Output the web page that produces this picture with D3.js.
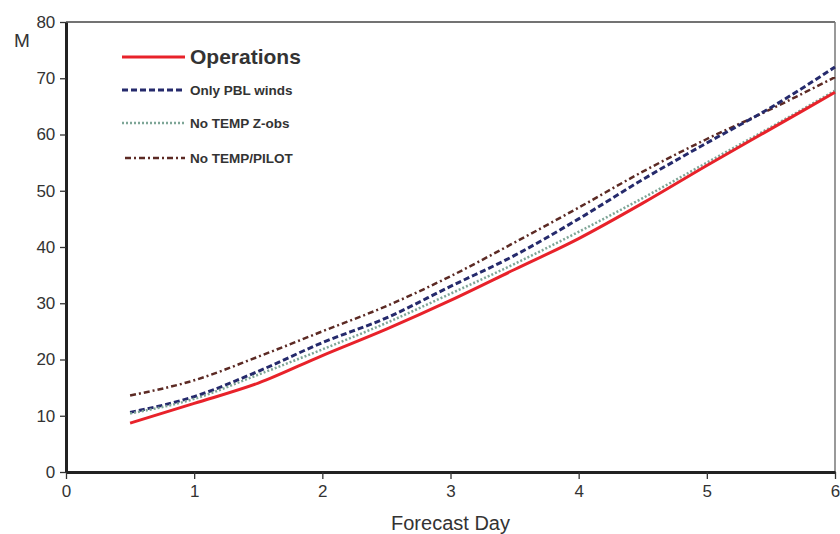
<!DOCTYPE html>
<html>
<head>
<meta charset="utf-8">
<script src="https://cdn.jsdelivr.net/npm/d3@7"></script>
<style>
  body { margin: 0; background: #fff; overflow: hidden; }
  text { font-family: "Liberation Sans", Arial, sans-serif; fill: #333; }
</style>
</head>
<body>
<script>
// forecast days (half-day steps)
let days = [0.5, 1, 1.5, 2, 2.5, 3, 3.5, 4, 4.5, 5, 5.5, 6];

let operations = [8.7, 12.2, 15.8, 20.7, 25.4, 30.5, 36.0, 41.5, 47.8, 54.5, 61.0, 67.5];
let onlyPbl    = [10.6, 13.4, 17.9, 23.0, 27.4, 33.0, 38.5, 45.0, 52.0, 58.5, 64.8, 72.0];
let noTempZ    = [10.4, 13.0, 17.3, 21.8, 26.5, 31.7, 37.0, 42.7, 48.7, 55.0, 61.3, 67.8];
let noTempPilot= [13.6, 16.3, 20.5, 25.0, 29.5, 34.8, 40.8, 47.0, 53.4, 59.2, 64.5, 70.2];

let seriesNames = ["Operations", "Only PBL winds", "No TEMP Z-obs", "No TEMP/PILOT"];
let xTicks = [0, 1, 2, 3, 4, 5, 6];
let yTicks = [0, 10, 20, 30, 40, 50, 60, 70, 80];

let width = 840, height = 534;
let margin = {top: 22, right: 5, bottom: 62, left: 66};

let svg = d3.select("body").append("svg")
  .attr("width", width)
  .attr("height", height);

let x = d3.scaleLinear().domain([0, 6]).range([margin.left, width - margin.right]);
let y = d3.scaleLinear().domain([0, 80]).range([height - margin.bottom, margin.top]);

// frame: thin top and right borders
svg.append("line")
  .attr("x1", x(0)).attr("x2", x(6))
  .attr("y1", y(80)).attr("y2", y(80))
  .attr("stroke", "#444").attr("stroke-width", 1.5);
svg.append("line")
  .attr("x1", x(6)).attr("x2", x(6))
  .attr("y1", y(80)).attr("y2", y(0))
  .attr("stroke", "#777").attr("stroke-width", 1.5);

// axes
let xAxis = svg.append("g")
  .attr("transform", "translate(0," + y(0) + ")")
  .call(d3.axisBottom(x).tickValues(xTicks).tickFormat(d3.format("d")).tickSize(7).tickSizeOuter(0));
let yAxis = svg.append("g")
  .attr("transform", "translate(" + x(0) + ",0)")
  .call(d3.axisLeft(y).tickValues(yTicks).tickFormat(d3.format("d")).tickSize(6).tickSizeOuter(0));

xAxis.select(".domain").attr("stroke", "#222").attr("stroke-width", 3);
yAxis.select(".domain").attr("stroke", "#222").attr("stroke-width", 3);
svg.selectAll(".tick line").attr("stroke", "#333").attr("stroke-width", 1.3);
svg.selectAll(".tick text").attr("font-size", 17).attr("fill", "#444")
  .style("font-family", "'Liberation Sans', Arial, sans-serif");
xAxis.selectAll(".tick text").attr("dy", "0.9em");
yAxis.selectAll(".tick text").attr("dx", "-0.1em");

// axis titles
svg.append("text")
  .attr("x", 22).attr("y", 47)
  .attr("font-size", 19).attr("text-anchor", "middle")
  .attr("fill", "#444")
  .text("M");
svg.append("text")
  .attr("x", x(3)).attr("y", 530)
  .attr("font-size", 20).attr("text-anchor", "middle")
  .attr("fill", "#444")
  .text("Forecast Day");

// series styles
let styles = [
  {data: operations,  color: "#e8222a", width: 3,   dash: null},
  {data: onlyPbl,     color: "#252a6c", width: 3,   dash: "6,3"},
  {data: noTempZ,     color: "#7ea697", width: 2.5, dash: "2,2"},
  {data: noTempPilot, color: "#5c2a24", width: 2.5, dash: "6,3,2,3"}
];

let line = d3.line()
  .x(function(d) { return x(d[0]); })
  .y(function(d) { return y(d[1]); })
  .curve(d3.curveMonotoneX);

// draw back to front so operations sits on top
[3, 1, 2, 0].forEach(function(i) {
  let s = styles[i];
  let pts = days.map(function(d, k) { return [d, s.data[k]]; });
  svg.append("path")
    .datum(pts)
    .attr("d", line)
    .attr("fill", "none")
    .attr("stroke", s.color)
    .attr("stroke-width", s.width)
    .attr("stroke-dasharray", s.dash);
});

// legend
let legendRows = [
  {y: 57,  size: 21, x1: 122},
  {y: 90,  size: 13.5, x1: 122},
  {y: 123, size: 13.5, x1: 122},
  {y: 158, size: 13.5, x1: 125}
];
legendRows.forEach(function(r, i) {
  let s = styles[i];
  svg.append("line")
    .attr("x1", r.x1).attr("x2", 185)
    .attr("y1", r.y).attr("y2", r.y)
    .attr("stroke", s.color)
    .attr("stroke-width", s.width)
    .attr("stroke-dasharray", s.dash);
  svg.append("text")
    .attr("x", 190).attr("y", r.y)
    .attr("dy", "0.35em")
    .attr("font-size", r.size)
    .attr("font-weight", "bold")
    .attr("fill", "#333")
    .text(seriesNames[i]);
});
</script>
</body>
</html>
